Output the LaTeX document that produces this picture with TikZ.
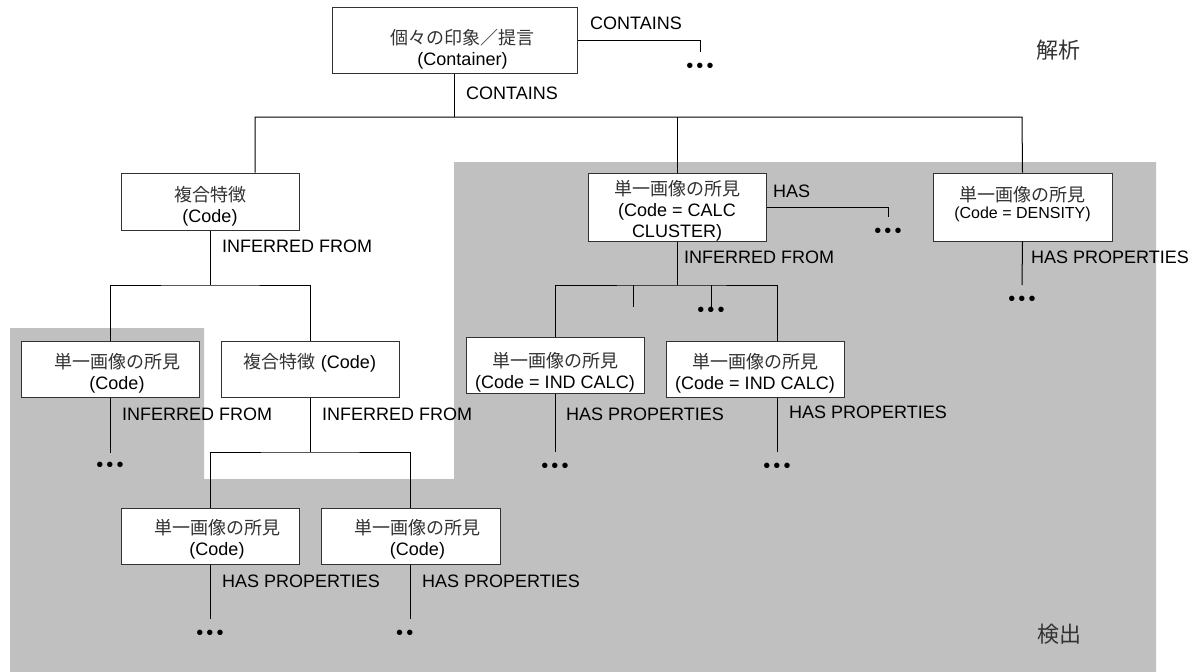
\documentclass[tikz,border=0pt]{standalone}
\usepackage{fontspec}
\setmainfont{Liberation Sans}
\newfontfamily\jp{Noto Sans CJK JP}
\definecolor{areagray}{RGB}{192,192,192}
\definecolor{jpgray}{RGB}{50,50,50}
\definecolor{edge}{RGB}{50,50,50}
\newcommand\jpt[1]{{\jp\color{jpgray}#1}}
\newcommand\threedots{•\kern3.2pt•\kern3.2pt•}
\newcommand\twodots{•\kern3.2pt•}
\newcommand\shiftedtext[3]{\hspace*{#1}\begin{tabular}[b]{@{}c@{}}#2\\#3\end{tabular}}
\begin{document}
\begin{tikzpicture}[x=1pt,y=-1pt,
  box/.style={draw=edge, line width=1pt, fill=white, inner xsep=0pt, inner ysep=0pt,
    align=center, font=\fontsize{18}{21}\selectfont, minimum width=178pt},
  lbl/.style={anchor=west, inner sep=0pt, font=\fontsize{18}{21}\selectfont},
  side/.style={anchor=west, inner sep=0pt, font=\jp\fontsize{22}{22}\selectfont, text=jpgray},
  link/.style={line width=1pt, black},
  ell/.style={inner sep=0pt, font=\fontsize{20}{20}\selectfont}
]
\useasboundingbox (0,0) rectangle (1197,672);
% detection area
\fill[areagray] (10,328) -- (204,328) -- (204,479) -- (454,479) -- (454,162)
  -- (1156,162) -- (1156,672) -- (10,672) -- cycle;

% boxes
\node[box, minimum width=245pt, text height=58pt, text depth=8pt] (top) at (454.5,40)
  {\shiftedtext{16pt}{\jpt{個々の印象／提言}}{(Container)}};
\node[box, text height=49pt, text depth=8pt] (cf1) at (210,201.5) {\jpt{複合特徴}\\(Code)};
\node[box, text height=64pt, text depth=4pt] (cc) at (677,207)
  {\jpt{単一画像の所見}\\(Code = CALC\\CLUSTER)};
\node[box, minimum width=179pt, text height=45pt, text depth=23pt] (dens) at (1022.5,207)
  {\jpt{単一画像の所見}\\[-4pt]{\fontsize{16}{18}\selectfont(Code = DENSITY)}};
\node[box, text height=48pt, text depth=8pt] (sl1) at (110,369)
  {\shiftedtext{14pt}{\jpt{単一画像の所見}}{(Code)}};
\node[box, text height=27pt, text depth=29pt] (cf2) at (310,369) {\jpt{複合特徴} (Code)};
\node[box, text height=51pt, text depth=5pt] (ic1) at (555,365) {\jpt{単一画像の所見}\\(Code = IND CALC)};
\node[box, text height=48pt, text depth=8pt] (ic2) at (755,369) {\jpt{単一画像の所見}\\(Code = IND CALC)};
\node[box, text height=47pt, text depth=9pt] (sb1) at (210,536)
  {\shiftedtext{14pt}{\jpt{単一画像の所見}}{(Code)}};
\node[box, minimum width=179pt, text height=47pt, text depth=9pt] (sb2) at (410.5,536)
  {\shiftedtext{14pt}{\jpt{単一画像の所見}}{(Code)}};

% ellipses
\node[ell] (e0) at (700,68) {\threedots};
\node[ell] (e1) at (888,233) {\threedots};
\node[ell] (e2) at (711,312) {\threedots};
\node[ell] (e3) at (1022,301) {\threedots};
\node[ell] (e4) at (110,467) {\threedots};
\node[ell] (e5) at (555,468) {\threedots};
\node[ell] (e6) at (777,468) {\threedots};
\node[ell] (e7) at (210,635) {\threedots};
\node[ell, anchor=west] (e8) at (396,635) {\twodots};

% helper coordinates
\coordinate (c0) at (700,52);
\coordinate (b1l) at (255,117);
\coordinate (b1r) at (1022,117);
\coordinate (c1) at (888,217);
\coordinate (b2) at (210,285);
\coordinate (b3) at (677,285);
\coordinate (t1) at (633,285);
\coordinate (t1e) at (633,307);
\coordinate (t2) at (711,285);
\coordinate (t2e) at (711,307);
\coordinate (x777) at (777,0);
\coordinate (d3) at (1022,285);
\coordinate (d4) at (110,453);
\coordinate (b4) at (310,452);
\coordinate (d5) at (555,452);
\coordinate (d6) at (777,452);
\coordinate (d7) at (210,619);
\coordinate (d8) at (410,619);

% connectors
\draw[link] (top.east) -| (c0);
\draw[link] (top.south) -- (top.south |- b1l);
\draw[link] (cf1.north -| b1l) -- (b1l) -- (b1r) -- (dens.north);
\draw[link] (cc.north) -- (cc.north |- b1l);
\draw[link] (cc.east) -| (c1);
\draw[link] (cf1.south) -- (b2);
\draw[link] (sl1.north) |- (b2) -| (cf2.north);
\draw[link] (cc.south) -- (b3);
\draw[link] (ic1.north) |- (b3) -| (ic2.north -| x777);
\draw[link] (t1) -- (t1e);
\draw[link] (t2) -- (t2e);
\draw[link] (dens.south) -- (d3);
\draw[link] (sl1.south) -- (d4);
\draw[link] (cf2.south) -- (b4);
\draw[link] (sb1.north) |- (b4) -| (sb2.north -| d8);
\draw[link] (ic1.south) -- (d5);
\draw[link] (ic2.south -| x777) -- (d6);
\draw[link] (sb1.south) -- (d7);
\draw[link] (sb2.south -| d8) -- (d8);

% relation labels
\node[lbl] (l1) at (590,23) {CONTAINS};
\node[lbl] (l2) at (466,93) {CONTAINS};
\node[lbl] (l3) at (222,246) {INFERRED FROM};
\node[lbl] (l4) at (773,191) {HAS};
\node[lbl] (l5) at (684,257) {INFERRED FROM};
\node[lbl] (l6) at (1031,257) {HAS PROPERTIES};
\node[lbl] (l7) at (122,414) {INFERRED FROM};
\node[lbl] (l8) at (322,414) {INFERRED FROM};
\node[lbl] (l9) at (566,414) {HAS PROPERTIES};
\node[lbl] (l10) at (789,412) {HAS PROPERTIES};
\node[lbl] (l11) at (222,581) {HAS PROPERTIES};
\node[lbl] (l12) at (422,581) {HAS PROPERTIES};

% layer labels
\node[side] (s1) at (1036,50) {解析};
\node[side] (s2) at (1037,634) {検出};
\end{tikzpicture}
\end{document}
